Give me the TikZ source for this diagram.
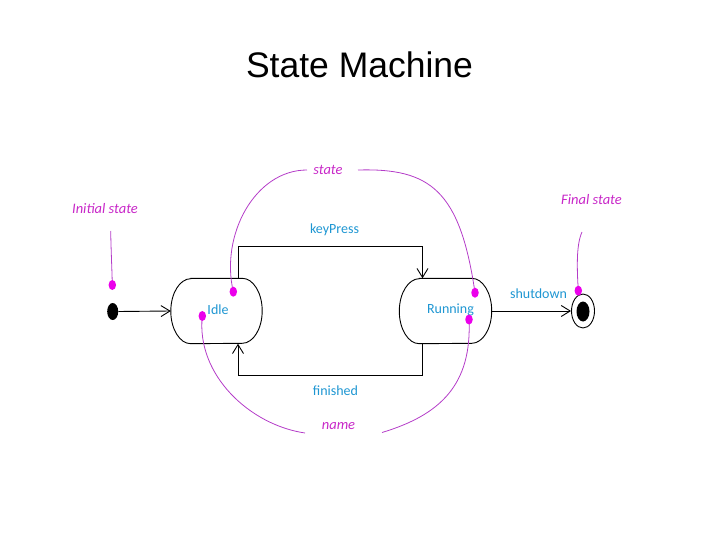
\documentclass[tikz,border=0pt]{standalone}
\usepackage{fontspec}
\setmainfont{Carlito}
\newfontfamily\titlefont{Liberation Sans}
\usetikzlibrary{arrows.meta,shapes.geometric,calc}
\definecolor{lblue}{RGB}{30,150,210}
\definecolor{mtext}{RGB}{200,40,200}
\definecolor{mdot}{RGB}{235,0,235}
\definecolor{mline}{RGB}{180,60,200}
\tikzset{
  statebox/.style={draw=none,rectangle,minimum width=91pt,minimum height=65pt,inner sep=0pt},
  outline/.style={draw=black,line width=0.9pt},
  arr/.style={draw=black,line width=0.9pt,-{Straight Barb[length=9pt,width=11pt]}},
  evlabel/.style={text=lblue,font=\fontsize{14}{16}\selectfont,inner sep=0pt},
  notelabel/.style={text=mtext,font=\fontsize{14.5}{17}\selectfont\itshape,inner sep=0pt},
  mdotstyle/.style={ellipse,fill=mdot,minimum width=7.5pt,minimum height=10pt,inner sep=0pt},
  mcurve/.style={draw=mline,line width=0.8pt}
}
\newcommand{\stateoutline}[1]{%
  \draw[outline] ($(#1.north west)+(20,0)$) -- ($(#1.north east)+(-20,0)$)
    arc[start angle=270,end angle=450,x radius=20,y radius=32.5]
    -- ($(#1.south west)+(20,0)$)
    arc[start angle=90,end angle=270,x radius=20,y radius=32.5] -- cycle;}
\begin{document}
\begin{tikzpicture}[x=1pt,y=-1pt]
\useasboundingbox (0,0) rectangle (720,540);
\node[font=\titlefont\fontsize{35.5}{40}\selectfont,anchor=base] (title) at (359.5,78) {State Machine};

% states
\node[statebox] (idle) at (216.5,311) {};
\node[statebox,minimum width=92pt] (running) at (445.5,311) {};
\stateoutline{idle}
\stateoutline{running}
\node[evlabel] (idlelbl) at (218,310) {Idle};
\node[evlabel] (runlbl) at (450.5,310) {Running};

% initial and final
\node[ellipse,fill=black,minimum width=11pt,minimum height=17pt,inner sep=0pt] (init) at (112.7,311.5) {};
\node[ellipse,draw=black,line width=0.9pt,minimum width=23pt,minimum height=34pt,inner sep=0pt] (final) at (583,311) {};
\node[ellipse,fill=black,minimum width=13pt,minimum height=20pt,inner sep=0pt] (finalin) at (583,311.5) {};

% transitions
\coordinate (kp1) at (238,246);
\coordinate (kp2) at (422.5,246);
\coordinate (f1) at (422.5,375);
\coordinate (f2) at (238,375);
\draw[arr] (init.east) -- (idle.west);
\draw[arr] (idle.north -| kp1) -- (kp1) -- (kp2) -- (running.north -| kp2);
\draw[arr] (running.south -| f1) -- (f1) -- (f2) -- (idle.south -| f2);
\draw[arr] (running.east) -- (final.west);

\node[evlabel] (kplbl) at (334.5,230) {keyPress};
\node[evlabel] (finlbl) at (335.5,391) {finished};
\node[evlabel] (sdlbl) at (538.5,294) {shutdown};

% annotations
\node[notelabel] (initnote) at (105,209) {Initial state};
\node[notelabel] (finalnote) at (591.5,200) {Final state};
\node[notelabel] (statenote) at (328,170) {state};
\node[notelabel] (namenote) at (338.5,426) {name};

\coordinate (ia) at (110.7,231);
\coordinate (sa) at (307,170);
\coordinate (sb) at (358,170);
\coordinate (fa) at (582,232);
\coordinate (na) at (305,433);
\coordinate (nb) at (382,432.5);

\coordinate (c1) at (112.3,285);
\coordinate (c2) at (233.3,291.7);
\coordinate (c3) at (475,292.7);
\coordinate (c4) at (578.3,290.7);
\coordinate (c5) at (202.3,316);
\coordinate (c6) at (469,319.5);

\draw[mcurve] (ia) .. controls (111,250) and (112,270) .. (c1);
\draw[mcurve] (sa) .. controls (255,170) and (220,235) .. (c2);
\draw[mcurve] (sb) .. controls (430,168) and (460,190) .. (c3);
\draw[mcurve] (fa) .. controls (576,245) and (577,270) .. (c4);
\draw[mcurve] (c5) .. controls (196,375) and (250,425) .. (na);
\draw[mcurve] (c6) .. controls (472,385) and (440,415) .. (nb);

\node[mdotstyle] (d1) at (c1) {};
\node[mdotstyle] (d2) at (c2) {};
\node[mdotstyle] (d3) at (c3) {};
\node[mdotstyle] (d4) at (c4) {};
\node[mdotstyle] (d5) at (c5) {};
\node[mdotstyle] (d6) at (c6) {};
\end{tikzpicture}
\end{document}
